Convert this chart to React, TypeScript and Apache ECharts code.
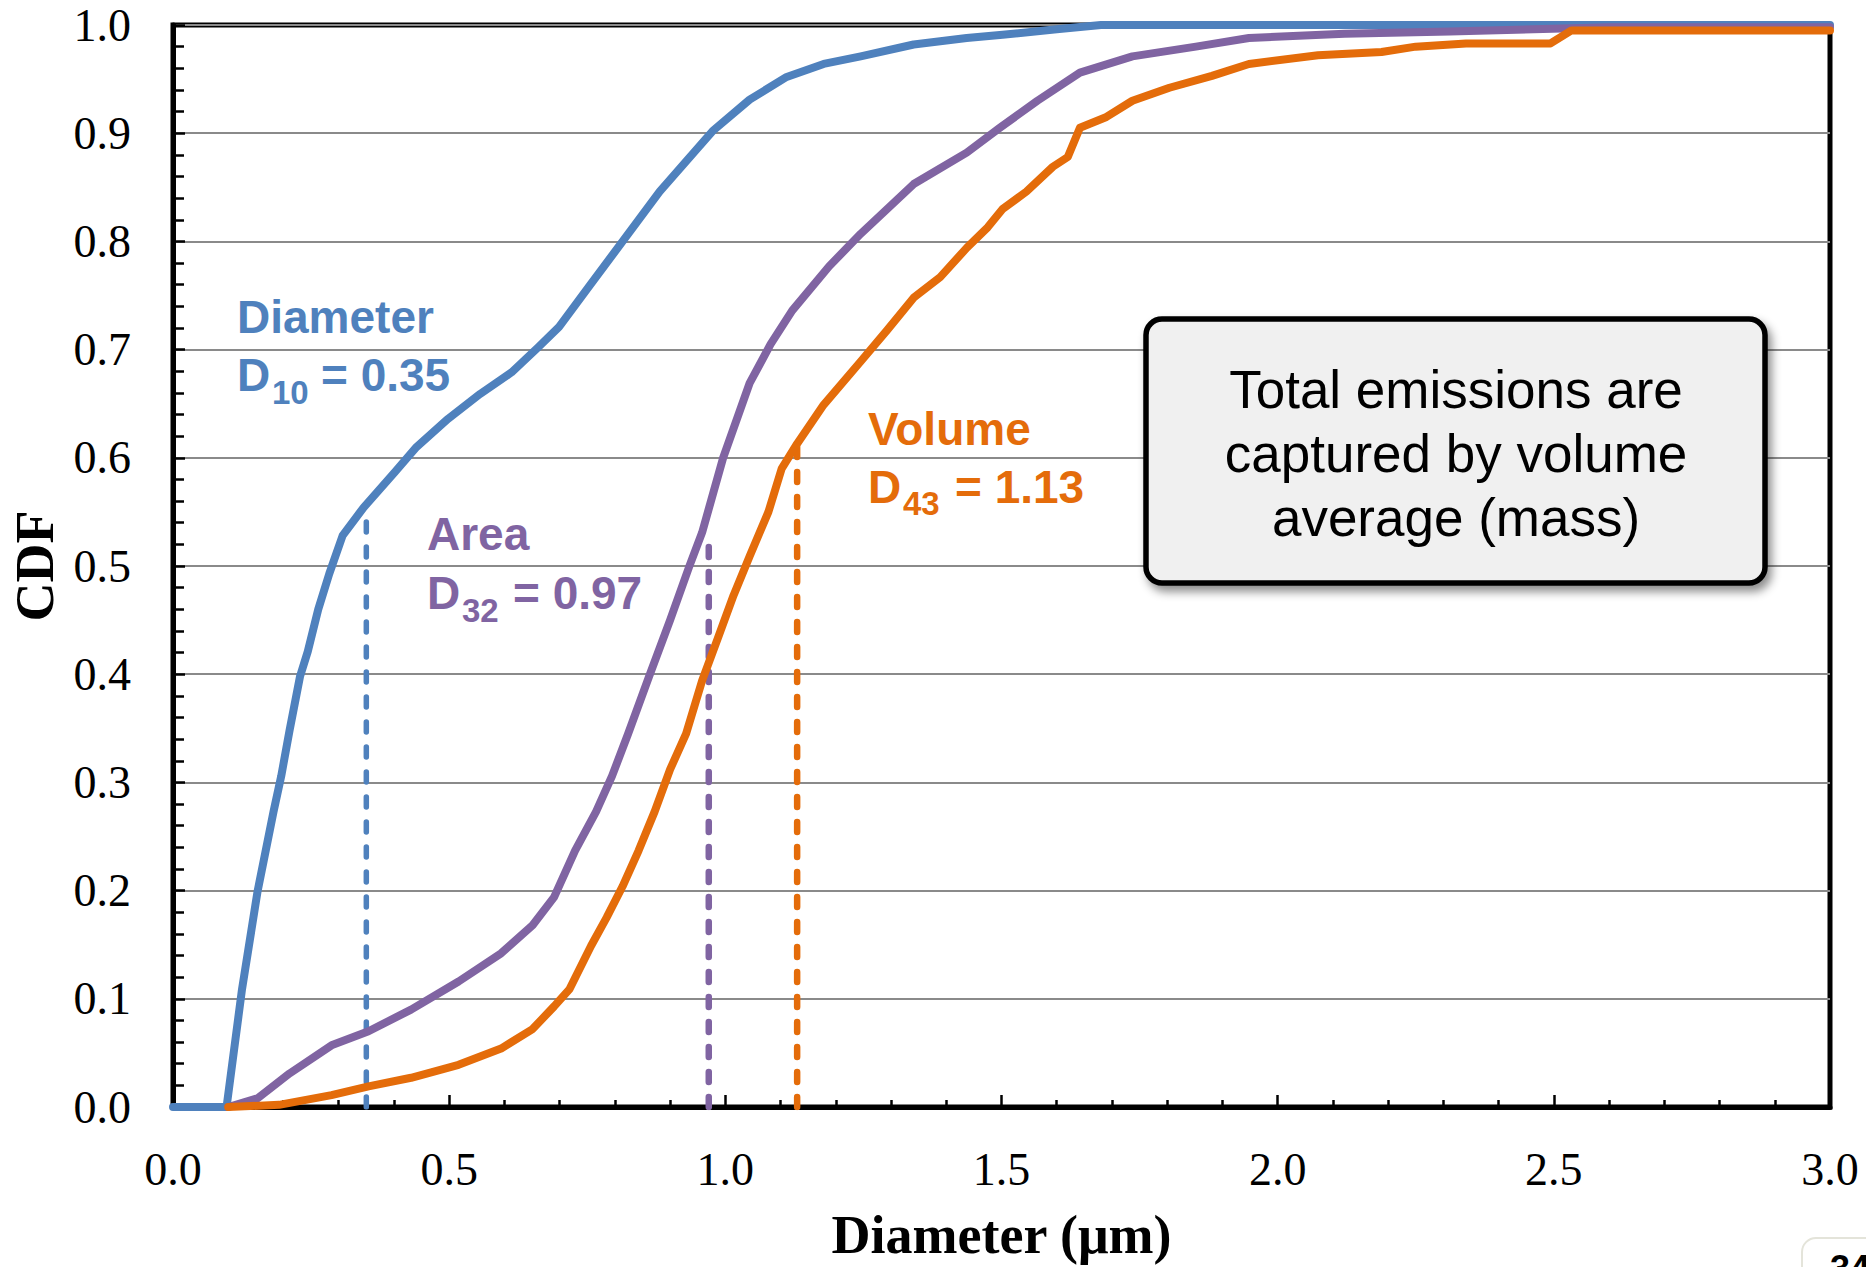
import React, { useEffect, useRef } from "react";
import * as echarts from "echarts";

// ---- data ----
const diameterX = [0, 0.097, 0.125, 0.153, 0.182, 0.196, 0.211, 0.23, 0.244, 0.263, 0.283, 0.307, 0.345, 0.402, 0.441, 0.498, 0.556, 0.613, 0.661, 0.699, 0.757, 0.814, 0.881, 0.948, 0.977, 1.044, 1.111, 1.178, 1.245, 1.341, 1.437, 1.502, 1.6, 1.68, 3.0];
const diameterY = [0, 0, 0.109, 0.199, 0.273, 0.306, 0.348, 0.398, 0.421, 0.46, 0.493, 0.528, 0.554, 0.587, 0.61, 0.636, 0.659, 0.679, 0.702, 0.721, 0.761, 0.8, 0.846, 0.885, 0.902, 0.931, 0.952, 0.964, 0.971, 0.982, 0.988, 0.991, 0.996, 1.0, 1.0];

const areaX = [0.1, 0.153, 0.211, 0.287, 0.354, 0.431, 0.517, 0.594, 0.651, 0.69, 0.728, 0.766, 0.795, 0.824, 0.862, 0.9, 0.935, 0.958, 0.996, 1.044, 1.082, 1.121, 1.188, 1.245, 1.341, 1.437, 1.497, 1.565, 1.642, 1.737, 1.852, 1.948, 2.121, 2.312, 2.532, 2.6, 3.0];
const areaY = [0, 0.008, 0.031, 0.057, 0.07, 0.09, 0.116, 0.142, 0.168, 0.194, 0.237, 0.273, 0.306, 0.345, 0.398, 0.45, 0.5, 0.531, 0.6, 0.669, 0.705, 0.736, 0.777, 0.807, 0.853, 0.882, 0.905, 0.93, 0.956, 0.971, 0.98, 0.988, 0.992, 0.994, 0.997, 0.998, 0.998];

const volumeX = [0.1, 0.192, 0.287, 0.354, 0.431, 0.517, 0.594, 0.651, 0.69, 0.718, 0.757, 0.785, 0.814, 0.843, 0.872, 0.9, 0.929, 0.958, 0.987, 1.015, 1.044, 1.078, 1.102, 1.13, 1.178, 1.245, 1.293, 1.341, 1.389, 1.437, 1.475, 1.502, 1.545, 1.593, 1.62, 1.642, 1.69, 1.737, 1.804, 1.881, 1.948, 2.073, 2.188, 2.25, 2.341, 2.494, 2.532, 2.609, 3.0];
const volumeY = [0, 0.002, 0.011, 0.019, 0.027, 0.039, 0.054, 0.072, 0.093, 0.109, 0.149, 0.175, 0.204, 0.237, 0.273, 0.312, 0.345, 0.394, 0.434, 0.473, 0.509, 0.55, 0.59, 0.613, 0.649, 0.689, 0.718, 0.748, 0.767, 0.794, 0.813, 0.83, 0.846, 0.869, 0.878, 0.905, 0.915, 0.93, 0.942, 0.953, 0.964, 0.972, 0.975, 0.98, 0.983, 0.983, 0.995, 0.995, 0.995];

// mean diameters and where their dashed markers stop
const meanNames = ["D10", "D32", "D43"];
const meanValues = [0.35, 0.97, 1.13];
const meanTops = [0.553, 0.53, 0.61];

const BLUE = "#4F81BD";
const PURPLE = "#8064A2";
const ORANGE = "#E46C0A";

const zip = (xs: number[], ys: number[]) => xs.map((x, i) => [x, ys[i]]);

const SANS = "'Liberation Sans', Arial, sans-serif";
const SERIF = "'Liberation Serif', 'Times New Roman', serif";

function annText(text: string, x: number, y: number, fill: string, size = 46) {
  return {
    type: "text",
    x,
    y,
    silent: true,
    z: 10,
    style: {
      text,
      fill,
      fontFamily: SANS,
      fontWeight: "bold",
      fontSize: size,
      align: "left",
      verticalAlign: "middle",
    },
  };
}

function App() {
  const ref = useRef<HTMLDivElement>(null);

  useEffect(() => {
    if (!ref.current) return;
    const chart = echarts.init(ref.current, undefined, { renderer: "svg" });

    const dashColors = [BLUE, PURPLE, ORANGE];
    const dashWidths = [5.5, 6.5, 6.5];
    const dashSeries = meanValues.map((v, i) => ({
      name: meanNames[i],
      type: "line",
      data: [
        [v, 0],
        [v, meanTops[i]],
      ],
      symbol: "none",
      silent: true,
      z: 2,
      lineStyle: { color: dashColors[i], width: dashWidths[i], type: [10, 15], cap: "round" },
    }));

    const curve = (name: string, xs: number[], ys: number[], color: string) => ({
      name,
      type: "line",
      data: zip(xs, ys),
      symbol: "none",
      silent: true,
      smooth: false,
      z: 3,
      lineStyle: { color, width: 8, join: "round", cap: "round" },
    });

    const option: any = {
      animation: false,
      backgroundColor: "#ffffff",
      grid: {
        left: 172,
        right: 36,
        top: 25,
        bottom: 152,
        show: true,
        borderColor: "#000",
        borderWidth: 5,
        backgroundColor: "transparent",
      },
      xAxis: {
        type: "value",
        min: 0,
        max: 3,
        interval: 0.5,
        name: "Diameter (μm)",
        nameLocation: "middle",
        nameGap: 101,
        nameTextStyle: { fontFamily: SERIF, fontWeight: "bold", fontSize: 54, color: "#000" },
        axisLine: { show: true, onZero: false, lineStyle: { color: "#000", width: 5 } },
        axisTick: { show: true, inside: true, length: 12, lineStyle: { color: "#000", width: 2.5 } },
        minorTick: { show: true, splitNumber: 5, length: 7, lineStyle: { color: "#000", width: 2.5 } },
        axisLabel: {
          margin: 39,
          fontFamily: SERIF,
          fontSize: 46,
          color: "#000",
          formatter: (v: number) => v.toFixed(1),
        },
        splitLine: { show: false },
      },
      yAxis: {
        type: "value",
        min: 0,
        max: 1,
        interval: 0.1,
        name: "CDF",
        nameLocation: "middle",
        nameGap: 111,
        nameTextStyle: { fontFamily: SERIF, fontWeight: "bold", fontSize: 54, color: "#000" },
        axisLine: { show: true, onZero: false, lineStyle: { color: "#000", width: 5 } },
        axisTick: { show: true, inside: true, length: 12, lineStyle: { color: "#000", width: 2.5 } },
        minorTick: { show: true, splitNumber: 5, length: 11, lineStyle: { color: "#000", width: 2.5 } },
        axisLabel: {
          margin: 42,
          fontFamily: SERIF,
          fontSize: 46,
          color: "#000",
          formatter: (v: number) => v.toFixed(1),
        },
        splitLine: { show: true, lineStyle: { color: "#8a8a8a", width: 2 } },
      },
      series: [
        ...dashSeries,
        curve("Diameter", diameterX, diameterY, BLUE),
        curve("Area", areaX, areaY, PURPLE),
        curve("Volume", volumeX, volumeY, ORANGE),
      ],
      graphic: [
        // Diameter annotation
        annText("Diameter", 237, 316.5, BLUE),
        annText("D", 237, 374.5, BLUE),
        annText("10", 272, 392, BLUE, 33),
        annText("= 0.35", 321, 374.5, BLUE),
        // Area annotation
        annText("Area", 427, 533.5, PURPLE),
        annText("D", 427, 592.5, PURPLE),
        annText("32", 462, 610, PURPLE, 33),
        annText("= 0.97", 513, 592.5, PURPLE),
        // Volume annotation
        annText("Volume", 868, 428.5, ORANGE),
        annText("D", 868, 486.5, ORANGE),
        annText("43", 903, 503.5, ORANGE, 33),
        annText("= 1.13", 955, 486.5, ORANGE),
        // call-out box
        {
          type: "rect",
          silent: true,
          z: 10,
          shape: { x: 1146, y: 319, width: 619, height: 264, r: 16 },
          style: {
            fill: "#F0F0F0",
            stroke: "#000",
            lineWidth: 5.5,
            shadowBlur: 10,
            shadowOffsetX: 4,
            shadowOffsetY: 6,
            shadowColor: "rgba(0,0,0,0.45)",
          },
        },
        {
          type: "text",
          silent: true,
          z: 11,
          x: 1456,
          y: 453,
          style: {
            text: "Total emissions are\ncaptured by volume\naverage (mass)",
            fill: "#000",
            fontFamily: SANS,
            fontSize: 53,
            lineHeight: 64,
            align: "center",
            verticalAlign: "middle",
          },
        },
        // page number tab (cut off at the bottom-right, as in the source slide)
        {
          type: "rect",
          silent: true,
          z: 10,
          shape: { x: 1802, y: 1238, width: 100, height: 60, r: 14 },
          style: { fill: "#fff", stroke: "#e4e4da", lineWidth: 2 },
        },
        {
          type: "text",
          silent: true,
          z: 11,
          x: 1830,
          y: 1250,
          style: {
            text: "34",
            fill: "#000",
            fontFamily: SANS,
            fontWeight: "bold",
            fontSize: 36,
            align: "left",
            verticalAlign: "top",
          },
        },
      ],
    };

    chart.setOption(option);
    return () => chart.dispose();
  }, []);

  return (
    <div
      ref={ref}
      style={{ position: "absolute", left: 0, top: 0, width: 1866, height: 1267, background: "#fff" }}
    />
  );
}

export default App;
